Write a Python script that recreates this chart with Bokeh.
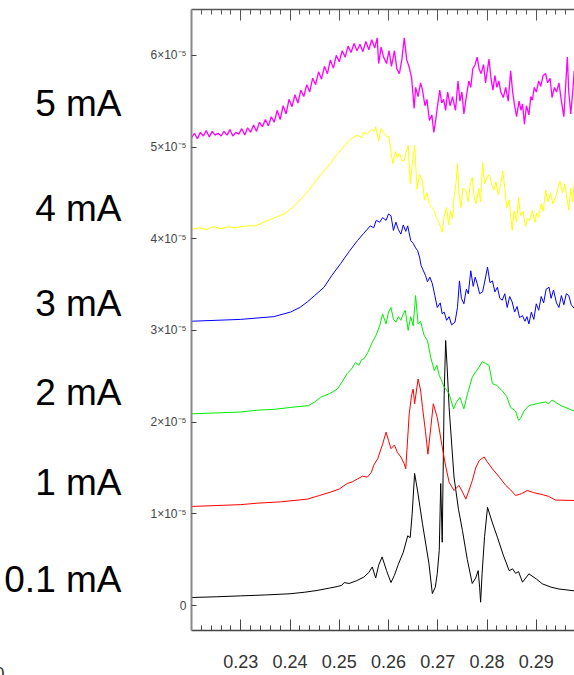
from bokeh.plotting import figure
from bokeh.models import Range1d, LinearAxis, FixedTicker, Title
from bokeh.embed import file_html
from bokeh.resources import INLINE

# y values are in units of 1e-5
UNIT = 1e-5

x_01 = [0.2200, 0.2250, 0.2300, 0.2350, 0.2400, 0.2430, 0.2455, 0.2480, 0.2496, 0.2505, 0.2510, 0.2520,
        0.2535, 0.2550, 0.2560, 0.2567, 0.2574, 0.2580, 0.2587, 0.2596, 0.2605, 0.2612, 0.2620, 0.2630,
        0.2639, 0.2644, 0.2648, 0.2653, 0.2659, 0.2669, 0.2682, 0.2689, 0.2695, 0.2699, 0.2703, 0.2706,
        0.2709, 0.2713, 0.2716, 0.2719, 0.2723, 0.2733, 0.2742, 0.2750, 0.2760, 0.2770, 0.2777, 0.2782,
        0.2785, 0.2787, 0.2790, 0.2795, 0.2801, 0.2811, 0.2821, 0.2833, 0.2845, 0.2852, 0.2858, 0.2864,
        0.2872, 0.2885, 0.2900, 0.2912, 0.2930, 0.2946, 0.2977]
y_01 = [0.087, 0.095, 0.105, 0.115, 0.128, 0.145, 0.164, 0.19, 0.207, 0.22, 0.25, 0.24,
        0.27, 0.31, 0.36, 0.42, 0.30, 0.44, 0.53, 0.38, 0.25, 0.33, 0.45, 0.58,
        0.76, 0.74, 1.00, 1.44, 1.25, 0.89, 0.46, 0.13, 0.20, 0.35, 0.60, 1.33,
        0.69, 2.30, 2.89, 2.60, 2.16, 1.40, 1.05, 0.82, 0.50, 0.24, 0.30, 0.38,
        0.20, 0.036, 0.35, 0.75, 1.07, 0.90, 0.745, 0.55, 0.38, 0.40, 0.35, 0.37,
        0.254, 0.345, 0.29, 0.237, 0.20, 0.18, 0.16]

x_1 = [0.2200, 0.2250, 0.2300, 0.2334, 0.2380, 0.2435, 0.2460, 0.2482, 0.2500, 0.2516, 0.2527, 0.2537,
       0.2547, 0.2557, 0.2565, 0.2570, 0.2578, 0.2588, 0.2595, 0.2600, 0.2605, 0.2612, 0.2618, 0.2625,
       0.2632, 0.2635, 0.2642, 0.2647, 0.2650, 0.2653, 0.2660, 0.2665, 0.2669, 0.2675, 0.2680, 0.2686,
       0.2691, 0.2699, 0.2709, 0.2716, 0.2723, 0.2733, 0.2743, 0.2750, 0.2757, 0.2763, 0.2770, 0.2777,
       0.2784, 0.2794, 0.2800, 0.2811, 0.2825, 0.2838, 0.2848, 0.2858, 0.2870, 0.2882, 0.2895, 0.2912,
       0.2925, 0.2939, 0.2977]
y_1 = [1.08, 1.09, 1.10, 1.116, 1.13, 1.16, 1.20, 1.236, 1.27, 1.33, 1.35, 1.38,
       1.41, 1.40, 1.45, 1.53, 1.60, 1.76, 1.89, 1.80, 1.71, 1.75, 1.67, 1.62,
       1.545, 1.49, 2.09, 2.30, 2.36, 2.20, 2.47, 2.35, 2.16, 1.90, 1.65, 1.95,
       2.20, 2.05, 1.73, 1.52, 1.345, 1.254, 1.31, 1.24, 1.16, 1.25, 1.36, 1.50,
       1.58, 1.62, 1.57, 1.49, 1.40, 1.31, 1.26, 1.20, 1.22, 1.254, 1.23, 1.21,
       1.19, 1.15, 1.145]

x_2 = [0.2200, 0.2250, 0.2300, 0.2334, 0.2370, 0.2401, 0.2438, 0.2450, 0.2462, 0.2480, 0.2496, 0.2506,
       0.2516, 0.2525, 0.2533, 0.2540, 0.2545, 0.2550, 0.2558, 0.2567, 0.2575, 0.2582, 0.2588, 0.2595,
       0.2600, 0.2605, 0.2610, 0.2615, 0.2620, 0.2625, 0.2630, 0.2634, 0.2640, 0.2645, 0.2650, 0.2655,
       0.2660, 0.2665, 0.2672, 0.2679, 0.2686, 0.2693, 0.2698, 0.2703, 0.2708, 0.2713, 0.2718, 0.2723,
       0.2732, 0.2738, 0.2745, 0.2753, 0.2760, 0.2770, 0.2777, 0.2784, 0.2790, 0.2797, 0.2804, 0.2811,
       0.2820, 0.2831, 0.2840, 0.2848, 0.2858, 0.2864, 0.2868, 0.2875, 0.2885, 0.2900, 0.2919, 0.2925,
       0.2932, 0.2950, 0.2977]
y_2 = [2.09, 2.10, 2.11, 2.13, 2.14, 2.16, 2.18, 2.22, 2.27, 2.31, 2.36, 2.44,
       2.53, 2.58, 2.65, 2.62, 2.68, 2.69, 2.76, 2.87, 2.95, 3.05, 3.18, 3.07,
       3.20, 3.25, 3.12, 3.09, 3.15, 3.11, 3.18, 3.22, 3.00, 3.15, 3.05, 3.38,
       3.07, 3.10, 2.95, 2.89, 2.70, 2.56, 2.62, 2.51, 2.45, 2.38, 2.35, 2.31,
       2.145, 2.22, 2.27, 2.145, 2.30, 2.49, 2.55, 2.60, 2.66, 2.64, 2.62, 2.42,
       2.40, 2.34, 2.28, 2.16, 2.12, 2.02, 2.04, 2.12, 2.18, 2.20, 2.22, 2.20,
       2.24, 2.18, 2.12]

x_3 = [0.2200, 0.2300, 0.2367, 0.2401, 0.2420, 0.2435, 0.2450, 0.2469, 0.2485, 0.2503, 0.2520, 0.2537,
       0.2550, 0.2563, 0.2570, 0.2575, 0.2582, 0.2588, 0.2595, 0.2600, 0.2605, 0.2610, 0.2615, 0.2620,
       0.2625, 0.2630, 0.2635, 0.2639, 0.2645, 0.2650, 0.2655, 0.2659, 0.2663, 0.2666, 0.2670, 0.2675,
       0.2679, 0.2684, 0.2689, 0.2694, 0.2699, 0.2705, 0.2709, 0.2713, 0.2718, 0.2723, 0.2728, 0.2735,
       0.2740, 0.2744, 0.2748, 0.2753, 0.2758, 0.2762, 0.2767, 0.2772, 0.2776, 0.2780, 0.2785, 0.2791,
       0.2796, 0.2801, 0.2806, 0.2811, 0.2816, 0.2821, 0.2826, 0.2831, 0.2836, 0.2841, 0.2846, 0.2851,
       0.2856, 0.2861, 0.2866, 0.2872, 0.2877, 0.2881, 0.2885, 0.2890, 0.2895, 0.2900, 0.2905, 0.2910,
       0.2915, 0.2920, 0.2926, 0.2930, 0.2935, 0.2941, 0.2946, 0.2951, 0.2956, 0.2961, 0.2966, 0.2971,
       0.2977]
y_3 = [3.10, 3.12, 3.15, 3.20, 3.25, 3.31, 3.38, 3.47, 3.60, 3.73, 3.86, 3.98,
       4.06, 4.14, 4.12, 4.20, 4.18, 4.23, 4.20, 4.27, 4.25, 4.09, 4.18, 4.10,
       4.05, 4.15, 4.08, 4.14, 3.98, 3.95, 3.90, 3.87, 3.80, 3.71, 3.66, 3.60,
       3.53, 3.58, 3.51, 3.38, 3.25, 3.30, 3.18, 3.20, 3.11, 3.15, 3.06, 3.09,
       3.25, 3.54, 3.35, 3.29, 3.45, 3.40, 3.65, 3.48, 3.58, 3.51, 3.40, 3.42,
       3.55, 3.69, 3.52, 3.54, 3.42, 3.47, 3.35, 3.33, 3.40, 3.25, 3.37, 3.31,
       3.20, 3.26, 3.14, 3.16, 3.10, 3.15, 3.07, 3.20, 3.12, 3.29, 3.22, 3.37,
       3.30, 3.45, 3.47, 3.35, 3.44, 3.30, 3.25, 3.38, 3.28, 3.40, 3.38, 3.28,
       3.24]

x_4 = [0.2200, 0.2215, 0.2230, 0.2245, 0.2260, 0.2275, 0.2290, 0.2300, 0.2315, 0.2330, 0.2347, 0.2365,
       0.2388, 0.2405, 0.2422, 0.2440, 0.2455, 0.2470, 0.2482, 0.2495, 0.2509, 0.2520, 0.2530, 0.2537,
       0.2545, 0.2550, 0.2557, 0.2565, 0.2570, 0.2574, 0.2580, 0.2585, 0.2590, 0.2596, 0.2601, 0.2606,
       0.2609, 0.2614, 0.2618, 0.2622, 0.2627, 0.2632, 0.2636, 0.2640, 0.2644, 0.2648, 0.2653, 0.2658,
       0.2663, 0.2669, 0.2673, 0.2678, 0.2683, 0.2688, 0.2693, 0.2697, 0.2702, 0.2706, 0.2709, 0.2713,
       0.2718, 0.2722, 0.2726, 0.2730, 0.2733, 0.2737, 0.2740, 0.2743, 0.2747, 0.2751, 0.2757, 0.2762,
       0.2766, 0.2770, 0.2774, 0.2778, 0.2783, 0.2787, 0.2791, 0.2795, 0.2800, 0.2805, 0.2810, 0.2814,
       0.2818, 0.2823, 0.2828, 0.2832, 0.2836, 0.2840, 0.2845, 0.2851, 0.2855, 0.2860, 0.2864, 0.2868,
       0.2873, 0.2878, 0.2882, 0.2887, 0.2892, 0.2897, 0.2901, 0.2905, 0.2910, 0.2914, 0.2919, 0.2924,
       0.2929, 0.2934, 0.2939, 0.2944, 0.2948, 0.2953, 0.2958, 0.2962, 0.2966, 0.2970, 0.2974, 0.2977]
y_4 = [4.10, 4.12, 4.10, 4.13, 4.11, 4.13, 4.12, 4.13, 4.14, 4.14, 4.18, 4.22,
       4.27, 4.34, 4.43, 4.54, 4.65, 4.75, 4.82, 4.92, 5.00, 5.07, 5.11, 5.13,
       5.10, 5.16, 5.14, 5.19, 5.17, 5.22, 5.07, 5.20, 5.15, 5.12, 5.11, 4.90,
       4.82, 4.95, 4.88, 4.93, 4.85, 4.85, 4.95, 5.02, 4.60, 4.80, 5.02, 4.54,
       4.70, 4.63, 4.42, 4.50, 4.38, 4.34, 4.30, 4.23, 4.18, 4.12, 4.07, 4.25,
       4.34, 4.15, 4.30, 4.22, 4.45, 4.60, 4.82, 4.50, 4.34, 4.55, 4.53, 4.40,
       4.60, 4.67, 4.45, 4.38, 4.55, 4.40, 4.83, 4.60, 4.67, 4.70, 4.58, 4.53,
       4.62, 4.48, 4.60, 4.74, 4.55, 4.34, 4.42, 4.09, 4.30, 4.18, 4.45, 4.25,
       4.30, 4.13, 4.22, 4.20, 4.31, 4.18, 4.28, 4.23, 4.38, 4.30, 4.53, 4.40,
       4.50, 4.38, 4.45, 4.55, 4.63, 4.50, 4.60, 4.45, 4.31, 4.55, 4.40, 4.60]

x_5 = [0.2200, 0.2206, 0.2212, 0.2218, 0.2224, 0.2230, 0.2236, 0.2242, 0.2248, 0.2254, 0.2260, 0.2266,
       0.2272, 0.2278, 0.2284, 0.2290, 0.2296, 0.2302, 0.2308, 0.2314, 0.2320, 0.2326, 0.2332, 0.2338,
       0.2344, 0.2350, 0.2356, 0.2362, 0.2368, 0.2374, 0.2380, 0.2386, 0.2392, 0.2398, 0.2404, 0.2410,
       0.2416, 0.2422, 0.2428, 0.2434, 0.2440, 0.2446, 0.2452, 0.2458, 0.2464, 0.2470, 0.2476, 0.2482,
       0.2488, 0.2494, 0.2500, 0.2506, 0.2512, 0.2518, 0.2524, 0.2530, 0.2536, 0.2542, 0.2548, 0.2554,
       0.2560, 0.2566, 0.2572, 0.2577, 0.2580, 0.2585, 0.2590, 0.2596, 0.2601, 0.2606, 0.2612, 0.2617,
       0.2622, 0.2627, 0.2632, 0.2637, 0.2642, 0.2647, 0.2652, 0.2655, 0.2660, 0.2665, 0.2669, 0.2674,
       0.2678, 0.2683, 0.2688, 0.2692, 0.2696, 0.2699, 0.2704, 0.2708, 0.2712, 0.2716, 0.2720, 0.2725,
       0.2730, 0.2736, 0.2741, 0.2745, 0.2749, 0.2753, 0.2758, 0.2763, 0.2767, 0.2771, 0.2776, 0.2780,
       0.2784, 0.2788, 0.2793, 0.2797, 0.2801, 0.2804, 0.2808, 0.2812, 0.2816, 0.2820, 0.2824, 0.2828,
       0.2833, 0.2838, 0.2843, 0.2848, 0.2852, 0.2856, 0.2860, 0.2865, 0.2869, 0.2872, 0.2876, 0.2880,
       0.2885, 0.2889, 0.2892, 0.2896, 0.2900, 0.2905, 0.2909, 0.2914, 0.2919, 0.2923, 0.2928, 0.2932,
       0.2937, 0.2941, 0.2946, 0.2951, 0.2956, 0.2960, 0.2963, 0.2966, 0.2970, 0.2974, 0.2977]
y_5 = [5.10, 5.15, 5.09, 5.16, 5.12, 5.18, 5.11, 5.17, 5.13, 5.15, 5.12, 5.17,
       5.13, 5.19, 5.12, 5.16, 5.14, 5.20, 5.13, 5.21, 5.16, 5.24, 5.17, 5.27,
       5.22, 5.30, 5.23, 5.33, 5.27, 5.40, 5.30, 5.45, 5.36, 5.52, 5.44, 5.57,
       5.48, 5.62, 5.55, 5.68, 5.60, 5.75, 5.68, 5.82, 5.74, 5.88, 5.80, 5.95,
       5.86, 6.00, 5.93, 6.05, 5.98, 6.10, 6.03, 6.13, 6.05, 6.12, 6.04, 6.15,
       6.06, 6.17, 6.08, 6.19, 5.91, 6.09, 5.98, 5.91, 6.05, 5.88, 6.05, 5.85,
       5.80, 5.95, 6.19, 5.95, 5.87, 5.75, 5.42, 5.65, 5.55, 5.70, 5.62, 5.45,
       5.52, 5.29, 5.35, 5.16, 5.30, 5.43, 5.62, 5.48, 5.52, 5.40, 5.60, 5.45,
       5.55, 5.40, 5.72, 5.50, 5.60, 5.36, 5.55, 5.72, 5.65, 5.85, 5.90, 5.98,
       5.85, 5.80, 5.90, 5.70, 5.85, 5.96, 5.75, 5.62, 5.78, 5.65, 5.72, 5.60,
       5.54, 5.65, 5.50, 5.83, 5.60, 5.45, 5.33, 5.50, 5.40, 5.47, 5.25, 5.45,
       5.35, 5.55, 5.51, 5.65, 5.60, 5.72, 5.66, 5.78, 5.80, 5.70, 5.75, 5.54,
       5.65, 5.60, 5.70, 5.50, 5.33, 5.70, 5.98, 5.60, 5.36, 5.60, 5.83]

series = [
    ("0.1 mA", x_01, y_01, "#000000", 1.0),
    ("1 mA", x_1, y_1, "#ff0000", 1.0),
    ("2 mA", x_2, y_2, "#00ee00", 1.0),
    ("3 mA", x_3, y_3, "#0000ff", 1.0),
    ("4 mA", x_4, y_4, "#ffff00", 1.0),
    ("5 mA", x_5, y_5, "#ff00ff", 1.3),
]
label_y = [0.28, 1.34, 2.32, 3.29, 4.33, 5.47]

x_major = [0.23, 0.24, 0.25, 0.26, 0.27, 0.28, 0.29]
x_minor = [round(0.22 + 0.002 * i, 3) for i in range(1, 39)]
y_major = [0, 1, 2, 3, 4, 5, 6]
y_labels = {0: "0", 1: "1×10⁻⁵", 2: "2×10⁻⁵", 3: "3×10⁻⁵", 4: "4×10⁻⁵", 5: "5×10⁻⁵", 6: "6×10⁻⁵"}

p = figure(width=574, height=675, output_backend="svg", toolbar_location=None,
           x_range=Range1d(0.22, 0.29776), y_range=Range1d(-0.2726, 6.4995),
           min_border_left=191, min_border_right=0, min_border_top=9, min_border_bottom=45,
           x_axis_location="below")
p.outline_line_color = None
p.xgrid.visible = False
p.ygrid.visible = False
p.background_fill_color = "white"
p.border_fill_color = "white"

for name, xs, ys, col, lw in series:
    p.line(xs, ys, line_color=col, line_width=lw)

xa = p.xaxis[0]
xa.ticker = FixedTicker(ticks=x_major, minor_ticks=x_minor)
xa.major_label_overrides = {v: f"{v:.2f}" for v in x_major}
xa.major_tick_in = 11
xa.major_tick_out = 0
xa.minor_tick_in = 5
xa.minor_tick_out = 0
xa.major_label_standoff = 24
xa.major_label_text_font = "Liberation Sans"
xa.major_label_text_font_size = "18px"
xa.major_label_text_color = "#333333"
xa.axis_line_color = "#444444"
xa.axis_line_width = 1.5
xa.major_tick_line_color = "#444444"
xa.minor_tick_line_color = "#444444"

top = LinearAxis(ticker=FixedTicker(ticks=x_major, minor_ticks=x_minor))
top.major_label_overrides = {v: "" for v in x_major}
top.major_label_text_font_size = "1px"
top.major_label_standoff = 0
top.major_tick_in = 11
top.major_tick_out = 0
top.minor_tick_in = 5
top.minor_tick_out = 0
top.axis_line_color = "#555555"
top.axis_line_width = 1.5
top.major_tick_line_color = "#555555"
top.minor_tick_line_color = "#555555"
p.add_layout(top, "above")

ya = p.yaxis[0]
ya.ticker = FixedTicker(ticks=y_major, minor_ticks=[])
ya.major_label_overrides = y_labels
ya.major_tick_in = 5
ya.major_tick_out = 0
ya.major_label_standoff = 5
ya.major_label_text_font = "Liberation Sans"
ya.major_label_text_font_size = "12px"
ya.major_label_text_color = "#444444"
ya.axis_line_color = "#888888"
ya.axis_line_width = 2
ya.major_tick_line_color = "#444444"

# series names as a second, outer left axis
names_axis = LinearAxis(ticker=FixedTicker(ticks=label_y, minor_ticks=[]))
names_axis.major_label_overrides = {ly: s[0] for ly, s in zip(label_y, series)}
names_axis.axis_line_color = None
names_axis.major_tick_line_color = None
names_axis.minor_tick_line_color = None
names_axis.major_tick_in = 0
names_axis.major_tick_out = 0
names_axis.major_label_standoff = 26
names_axis.major_label_text_font = "Liberation Sans"
names_axis.major_label_text_font_size = "37px"
names_axis.major_label_text_color = "#000000"
p.add_layout(names_axis, "left")

# cut-off tick label of a neighbouring panel at the lower left
p.add_layout(Title(text="0", align="left", offset=-197, standoff=-12, text_font="Liberation Sans",
                   text_font_size="18px", text_font_style="normal", text_color="#333333"), "below")

open("out.html", "w").write(file_html(p, INLINE))
